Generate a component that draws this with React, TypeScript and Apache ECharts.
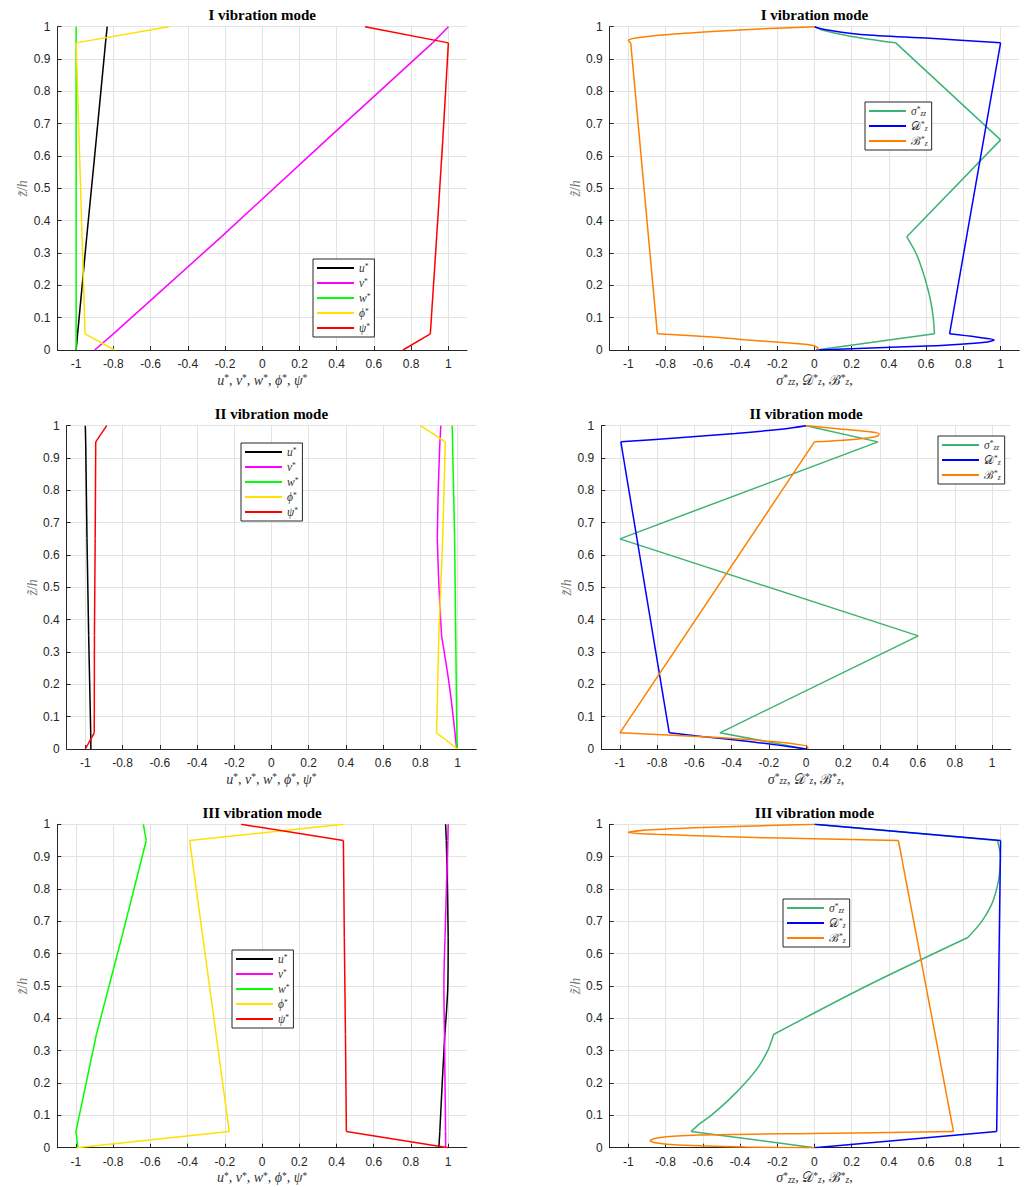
import React, { useEffect, useRef } from "react";
import * as echarts from "echarts";

// ---------- data ----------
const xTicks = [-1, -0.8, -0.6, -0.4, -0.2, 0, 0.2, 0.4, 0.6, 0.8, 1];
const zLayers = [0, 0.05, 0.35, 0.65, 0.95, 1];
const layerCuts = [0.05, 0.35, 0.65, 0.95];
const titles = ["I vibration mode", "I vibration mode", "II vibration mode", "II vibration mode", "III vibration mode", "III vibration mode"];

// Mode I, displacements
const m1U = [-1, -0.992, -0.943, -0.892, -0.842, -0.833];
const m1V = [-0.9, -0.8, -0.22, 0.345, 0.915, 1.0];
const m1W = [-1, -1, -1, -1, -1, -1];
const m1Phi = [-0.794, -0.952, -0.968, -0.984, -1.0, -0.502];
const m1Psi = [0.756, 0.903, 0.937, 0.97, 1.0, 0.552];

// Mode I, stresses / fields
const m1SigZ = [0, 0.05, 0.1, 0.15, 0.2, 0.25, 0.3, 0.35, 0.65, 0.95, 0.97, 0.99, 1];
const m1Sig = [0.01, 0.645, 0.638, 0.625, 0.604, 0.578, 0.545, 0.496, 1.0, 0.437, 0.2, 0.04, 0];
const m1DZ = [0, 0.007, 0.015, 0.025, 0.031, 0.04, 0.05, 0.95, 0.964, 0.976, 0.99, 0.996, 1];
const m1D = [0.01, 0.34, 0.7, 0.93, 0.966, 0.87, 0.726, 1.0, 0.62, 0.25, 0.07, 0.02, 0];
const m1BZ = [0, 0.008, 0.015, 0.024, 0.032, 0.04, 0.05, 0.95, 0.957, 0.965, 0.975, 0.985, 0.993, 1];
const m1B = [0.02, 0.015, -0.014, -0.19, -0.38, -0.55, -0.844, -0.987, -1.0, -0.96, -0.8, -0.55, -0.3, 0];

// Mode II, displacements
const m2U = [-0.97, -0.971, -0.982, -0.991, -0.998, -1.0];
const m2VZ = [0, 0.05, 0.2, 0.35, 0.5, 0.65, 0.8, 0.95, 1];
const m2V = [0.995, 0.986, 0.955, 0.914, 0.9, 0.891, 0.896, 0.905, 0.91];
const m2W = [0.998, 0.996, 0.99, 0.984, 0.973, 0.971];
const m2Phi = [1.0, 0.887, 0.899, 0.92, 0.934, 0.801];
const m2Psi = [-1.0, -0.952, -0.951, -0.947, -0.944, -0.885];

// Mode II, stresses / fields
const m2Sig = [0, -0.463, 0.603, -1.0, 0.386, 0];
const m2DZ = [0, 0.012, 0.025, 0.038, 0.05, 0.95, 0.962, 0.976, 0.99, 1];
const m2D = [0, -0.15, -0.33, -0.55, -0.735, -0.995, -0.7, -0.38, -0.12, 0];
const m2BZ = [0, 0.006, 0.012, 0.023, 0.036, 0.05, 0.95, 0.955, 0.962, 0.968, 0.975, 0.982, 0.99, 1];
const m2B = [0.009, 0.009, -0.02, -0.18, -0.5, -1.0, 0.045, 0.2, 0.33, 0.385, 0.392, 0.33, 0.18, 0];

// Mode III, displacements
const m3UZ = [0, 0.05, 0.2, 0.35, 0.5, 0.65, 0.8, 0.95, 1];
const m3U = [0.95, 0.955, 0.968, 0.982, 0.998, 1.0, 0.996, 0.99, 0.986];
const m3VZ = [0, 0.05, 0.35, 0.5, 0.65, 0.95, 1];
const m3V = [0.986, 0.986, 0.98, 0.977, 0.983, 0.998, 1.0];
const m3W = [-0.989, -1.0, -0.89, -0.754, -0.622, -0.638];
const m3Phi = [-0.996, -0.176, -0.247, -0.318, -0.389, 0.437];
const m3Psi = [1.0, 0.453, 0.448, 0.442, 0.437, -0.113];

// Mode III, stresses / fields
const m3SigZ = [0, 0.05, 0.075, 0.1, 0.147, 0.2, 0.25, 0.3, 0.333, 0.35, 0.5, 0.65, 0.7, 0.75, 0.8, 0.85, 0.9, 0.95, 1];
const m3Sig = [0, -0.663, -0.614, -0.555, -0.462, -0.372, -0.301, -0.251, -0.229, -0.22, 0.28, 0.824, 0.899, 0.95, 0.979, 0.995, 0.999, 0.983, 0];
const m3DZ = [0, 0.05, 0.95, 1];
const m3D = [0, 0.979, 1.0, 0];
const m3BZ = [0, 0.002, 0.008, 0.015, 0.0216, 0.031, 0.039, 0.044, 0.05, 0.95, 0.955, 0.962, 0.969, 0.975, 0.982, 0.99, 0.996, 1];
const m3B = [0, -0.372, -0.73, -0.856, -0.883, -0.84, -0.623, -0.014, 0.747, 0.451, 0.0, -0.5, -0.85, -1.0, -0.9, -0.6, -0.25, 0];

// ---------- styling ----------
const SERIF = "'Liberation Serif', 'DejaVu Serif', serif";
const SANS = "'Liberation Sans', Arial, sans-serif";
const AX = "#262626";
const GRIDC = "#e3e3e3";

const COLORS: Record<string, string> = {
  u: "#000000",
  v: "#ff00ff",
  w: "#00ff00",
  phi: "#ffe000",
  psi: "#ff0000",
  sig: "#3cb371",
  D: "#0000ff",
  B: "#ff8000",
};

const LEG_LABELS: Record<string, string> = {
  u: "{i|u}{sp|*}",
  v: "{i|v}{sp|*}",
  w: "{i|w}{sp|*}",
  phi: "{i|ϕ}{sp|*}",
  psi: "{i|ψ}{sp|*}",
  sig: "{i|σ}{sp|*}{sb|zz}",
  D: "{c|𝒟}{sp|*}{sb|z}",
  B: "{c|ℬ}{sp|*}{sb|z}",
};

const grids = [
  { left: 57.5, top: 26.7, width: 409.5, height: 323.3 },
  { left: 609.7, top: 26.7, width: 409.5, height: 323.3 },
  { left: 66.7, top: 425.7, width: 409.5, height: 323.3 },
  { left: 601.3, top: 425.7, width: 409.5, height: 323.3 },
  { left: 57.3, top: 824.3, width: 409.5, height: 323.4 },
  { left: 609.7, top: 824.3, width: 409.5, height: 323.4 },
];
const legendPos = [
  { left: 313, top: 259 },
  { left: 865, top: 102 },
  { left: 241, top: 443 },
  { left: 938, top: 436 },
  { left: 232, top: 950 },
  { left: 783, top: 899 },
];

function richSet(size: number, sub: number, color: string) {
  return {
    i: { fontFamily: SERIF, fontStyle: "italic", fontSize: size, color },
    c: { fontFamily: SERIF, fontSize: size, color },
    sp: { fontFamily: SERIF, fontSize: sub, verticalAlign: "top", color },
    sb: { fontFamily: SERIF, fontStyle: "italic", fontSize: sub, verticalAlign: "bottom", color },
  };
}

const xNameLeft = "{i|u}{sp|*}{c|, }{i|v}{sp|*}{c|, }{i|w}{sp|*}{c|, }{i|ϕ}{sp|*}{c|, }{i|ψ}{sp|*}";
const xNameRight = "{i|σ}{sp|*}{sb|zz}{c|, }{c|𝒟}{sp|*}{sb|z}{c|, }{c|ℬ}{sp|*}{sb|z}{c|,}";
const yName = "{i|z̃}{c|/}{i|h}";

// split a profile at the layer interfaces so that kinks stay sharp
function layerSegments(xs: number[], zs: number[]) {
  const segs: number[][][] = [];
  let cur: number[][] = [];
  xs.forEach((x, i) => {
    cur.push([x, zs[i]]);
    if (i > 0 && i < xs.length - 1 && layerCuts.indexOf(zs[i]) >= 0) {
      segs.push(cur);
      cur = [[x, zs[i]]];
    }
  });
  segs.push(cur);
  return segs;
}

export default function App() {
  const ref = useRef<HTMLDivElement>(null);
  useEffect(() => {
    if (!ref.current) return;
    const chart = echarts.init(ref.current, undefined, { renderer: "svg" });

    const panels: { key: string; x: number[]; z: number[] }[][] = [
      [
        { key: "u", x: m1U, z: zLayers },
        { key: "v", x: m1V, z: zLayers },
        { key: "w", x: m1W, z: zLayers },
        { key: "phi", x: m1Phi, z: zLayers },
        { key: "psi", x: m1Psi, z: zLayers },
      ],
      [
        { key: "sig", x: m1Sig, z: m1SigZ },
        { key: "D", x: m1D, z: m1DZ },
        { key: "B", x: m1B, z: m1BZ },
      ],
      [
        { key: "u", x: m2U, z: zLayers },
        { key: "v", x: m2V, z: m2VZ },
        { key: "w", x: m2W, z: zLayers },
        { key: "phi", x: m2Phi, z: zLayers },
        { key: "psi", x: m2Psi, z: zLayers },
      ],
      [
        { key: "sig", x: m2Sig, z: zLayers },
        { key: "D", x: m2D, z: m2DZ },
        { key: "B", x: m2B, z: m2BZ },
      ],
      [
        { key: "u", x: m3U, z: m3UZ },
        { key: "v", x: m3V, z: m3VZ },
        { key: "w", x: m3W, z: zLayers },
        { key: "phi", x: m3Phi, z: zLayers },
        { key: "psi", x: m3Psi, z: zLayers },
      ],
      [
        { key: "sig", x: m3Sig, z: m3SigZ },
        { key: "D", x: m3D, z: m3DZ },
        { key: "B", x: m3B, z: m3BZ },
      ],
    ];

    const series: any[] = [];
    panels.forEach((p, gi) => {
      p.forEach((s) => {
        layerSegments(s.x, s.z).forEach((seg) => {
          series.push({
            type: "line",
            name: s.key,
            xAxisIndex: gi,
            yAxisIndex: gi,
            data: seg,
            showSymbol: false,
            symbol: "none",
            smooth: seg.length > 2 ? 0.3 : false,
            color: COLORS[s.key],
            lineStyle: { color: COLORS[s.key], width: 1.5 },
            silent: true,
          });
        });
      });
    });

    const option: any = {
      animation: false,
      backgroundColor: "#ffffff",
      title: grids.map((g, i) => ({
        text: titles[i],
        left: g.left + g.width / 2,
        top: g.top - 19,
        textAlign: "center",
        padding: 0,
        textStyle: { fontFamily: SERIF, fontWeight: "bold", fontSize: 15, color: "#000" },
      })),
      grid: grids.map((g) => ({ ...g, containLabel: false })),
      legend: panels.map((p, i) => ({
        orient: "vertical",
        left: legendPos[i].left,
        top: legendPos[i].top,
        data: p.map((s) => s.key),
        icon: "rect",
        itemWidth: 37,
        itemHeight: 2,
        itemGap: 3,
        itemTextGap: 3,
        padding: [3, 4, 3, 4],
        borderColor: AX,
        borderWidth: 1,
        borderRadius: 0,
        backgroundColor: "#ffffff",
        selectedMode: false,
        formatter: (name: string) => LEG_LABELS[name],
        textStyle: { rich: richSet(11.5, 7.5, "#333") },
      })),
      xAxis: grids.map((_, i) => ({
        type: "value",
        gridIndex: i,
        min: -1.1,
        max: 1.1,
        name: i % 2 === 0 ? xNameLeft : xNameRight,
        nameLocation: "middle",
        nameGap: 23,
        nameTextStyle: { rich: richSet(14, 9.5, "#333") },
        axisLine: { show: true, onZero: false, lineStyle: { color: AX, width: 1 } },
        axisTick: { show: true, inside: true, length: 4, customValues: xTicks, lineStyle: { color: AX } },
        axisLabel: { customValues: xTicks, fontFamily: SANS, fontSize: 12, color: AX, margin: 8 },
        splitLine: { show: true, lineStyle: { color: GRIDC, width: 1 } },
      })),
      yAxis: grids.map((_, i) => ({
        type: "value",
        gridIndex: i,
        min: 0,
        max: 1,
        interval: 0.1,
        name: yName,
        nameLocation: "middle",
        nameGap: 27,
        nameRotate: 90,
        nameTextStyle: { rich: richSet(14, 9.5, "#777") },
        axisLine: { show: true, onZero: false, lineStyle: { color: AX, width: 1 } },
        axisTick: { show: true, inside: true, length: 4, lineStyle: { color: AX } },
        axisLabel: { fontFamily: SANS, fontSize: 12, color: AX, margin: 7 },
        splitLine: { show: true, lineStyle: { color: GRIDC, width: 1 } },
      })),
      series,
    };

    chart.setOption(option);
    return () => chart.dispose();
  }, []);

  return (
    <div
      ref={ref}
      style={{ position: "absolute", left: 0, top: 0, width: 1024, height: 1187, background: "#fff" }}
    />
  );
}
